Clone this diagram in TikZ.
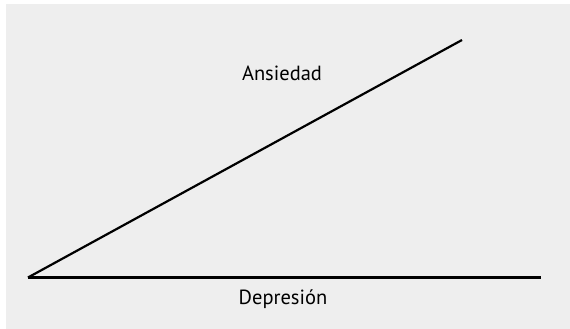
\documentclass[tikz,border=0pt]{standalone}
\usepackage{fontspec}
\setmainfont{PT Sans}
\usepackage{xcolor}
\usepackage{tikz}
\usetikzlibrary{positioning}
\definecolor{PanelGray}{HTML}{EEEEEE}
\tikzset{
  axisline/.style={line width=2.2pt, black},
  lbl/.style={font=\fontsize{20.5}{24}\selectfont, inner sep=0pt, anchor=center}
}

\begin{document}
\begin{tikzpicture}[x=1pt, y=-1pt]
  \useasboundingbox (0,0) rectangle (570,329);
  \fill[PanelGray] (6,4) rectangle (570,329);
  \coordinate (origin) at (28,277.5);
  \coordinate (ansEnd) at (462,40);
  \coordinate (depEnd) at (541,277.5);
  \draw[axisline] (origin) -- (ansEnd);
  \draw[axisline] (origin) -- (depEnd);
  \node[lbl] (ans) at (282,73) {Ansiedad};
  \node[lbl] (dep) at (283,299) {Depresión};
\end{tikzpicture}
\end{document}
